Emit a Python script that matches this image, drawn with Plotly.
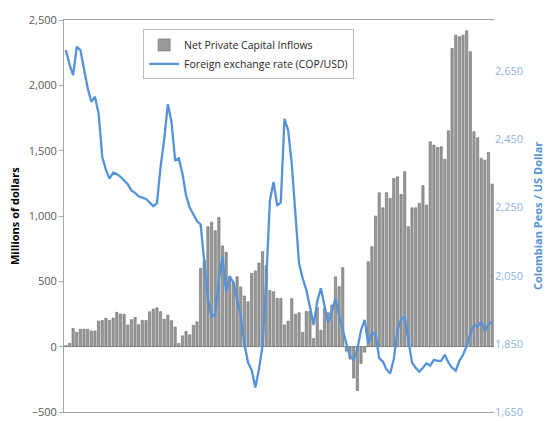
import plotly.graph_objects as go

inflows = [8, 25, 140, 110, 133, 133, 133, 120, 120, 196,
           200, 217, 200, 219, 263, 250, 247, 166, 207, 224,
           168, 202, 200, 267, 287, 297, 268, 210, 241, 199,
           150, 25, 83, 117, 91, 163, 191, 600, 660, 918,
           953, 887, 989, 771, 723, 540, 490, 535, 457, 388,
           344, 561, 579, 640, 727, 620, 430, 421, 370, 370,
           166, 195, 368, 247, 259, 110, 270, 272, 62, 300,
           125, 292, 260, 318, 535, 459, 605, -35, -95, -240,
           -336, -128, -42, 650, 765, 1000, 1178, 1063, 1178, 1135,
           1288, 1300, 1165, 1339, 918, 1063, 1063, 1097, 1232, 1084,
           1568, 1543, 1525, 1530, 1433, 1652, 2282, 2384, 2372, 2384,
           2417, 2257, 1645, 1599, 1441, 1428, 1487, 1244]

fx_rate = [2712, 2670, 2638, 2721, 2712, 2660, 2600, 2560, 2575, 2526,
           2399, 2360, 2335, 2352, 2348, 2340, 2330, 2318, 2300, 2293,
           2283, 2279, 2275, 2265, 2254, 2262, 2369, 2450, 2553, 2500,
           2389, 2394, 2350, 2285, 2250, 2230, 2210, 2200, 2090, 1980,
           1930, 1937, 2040, 2105, 2003, 2047, 2030, 1985, 1932, 1850,
           1795, 1773, 1722, 1775, 1846, 2037, 2270, 2325, 2255, 2265,
           2510, 2477, 2379, 2232, 2086, 2042, 2008, 1959, 1905, 1975,
           2013, 1960, 1912, 1944, 1983, 1934, 1890, 1850, 1812, 1804,
           1835, 1890, 1920, 1850, 1881, 1880, 1808, 1798, 1775, 1763,
           1805, 1890, 1922, 1929, 1861, 1795, 1780, 1768, 1780, 1793,
           1786, 1803, 1800, 1800, 1818, 1795, 1780, 1771, 1800, 1818,
           1843, 1880, 1905, 1900, 1915, 1887, 1908, 1915]

periods = list(range(len(inflows)))

left_ticks = [-500, 0, 500, 1000, 1500, 2000, 2500]
right_ticks = [1650, 1850, 2050, 2250, 2450, 2650]

FONT = "Open Sans"
BLUE = "#5592D8"

fig = go.Figure()
fig.add_trace(go.Bar(
    x=periods, y=inflows, name="Net Private Capital Inflows",
    marker=dict(color="#9a9a9a", line=dict(color="#6a6a6a", width=0.6)),
    yaxis="y",
))
fig.add_trace(go.Scatter(
    x=periods, y=fx_rate, name="Foreign exchange rate (COP/USD)",
    mode="lines", line=dict(color=BLUE, width=2.3),
    yaxis="y2",
))

fig.update_layout(
    width=546, height=421,
    margin=dict(l=64, r=52, t=20, b=9, autoexpand=False),
    paper_bgcolor="white", plot_bgcolor="white",
    bargap=0.38,
    font=dict(family=FONT, size=11, color="#595959"),
    showlegend=True,
    legend=dict(
        x=0.184, y=0.976, xanchor="left", yanchor="top",
        bordercolor="#bfbfbf", borderwidth=1, bgcolor="white",
        font=dict(family=FONT, size=10.5, color="#262626"),
        tracegroupgap=2,
    ),
    xaxis=dict(
        range=[-0.5, len(inflows) - 0.5], automargin=False,
        showticklabels=False, ticks="",
        showline=True, linecolor="#a6a6a6", linewidth=1, mirror=True,
        showgrid=False, zeroline=False,
    ),
    yaxis=dict(
        range=[-500, 2500], tickvals=left_ticks, tickformat=",",
        automargin=False,
        ticks="outside", ticklen=4, tickcolor="#a6a6a6",
        showline=True, linecolor="#a6a6a6", linewidth=1,
        showgrid=False, zeroline=True, zerolinecolor="#a6a6a6", zerolinewidth=1,
        tickfont=dict(family=FONT, size=11, color="#595959"),
    ),
    yaxis2=dict(
        overlaying="y", side="right", automargin=False,
        range=[1650, 2800], tickvals=right_ticks, tickformat=",",
        ticks="", showline=False, showgrid=False, zeroline=False,
        tickfont=dict(family=FONT, size=11, color="#8db4e2"),
    ),
    annotations=[
        dict(text="<b>Millions of dollars</b>", x=0, y=0.5, xshift=-50,
             xref="paper", yref="paper", showarrow=False, textangle=-90,
             xanchor="center", yanchor="middle",
             font=dict(family=FONT, size=11, color="#000000")),
        dict(text="<b>Colombian Peos / US Dollar</b>", x=1.0, y=0.5,
             xref="paper", yref="paper", showarrow=False, textangle=-90,
             xanchor="center", yanchor="middle", xshift=43,
             font=dict(family=FONT, size=11, color=BLUE)),
    ],
)

fig.write_html("out.html",
               config={"displayModeBar": False},
               post_script="document.body.style.margin='0';document.body.style.overflow='hidden';")
